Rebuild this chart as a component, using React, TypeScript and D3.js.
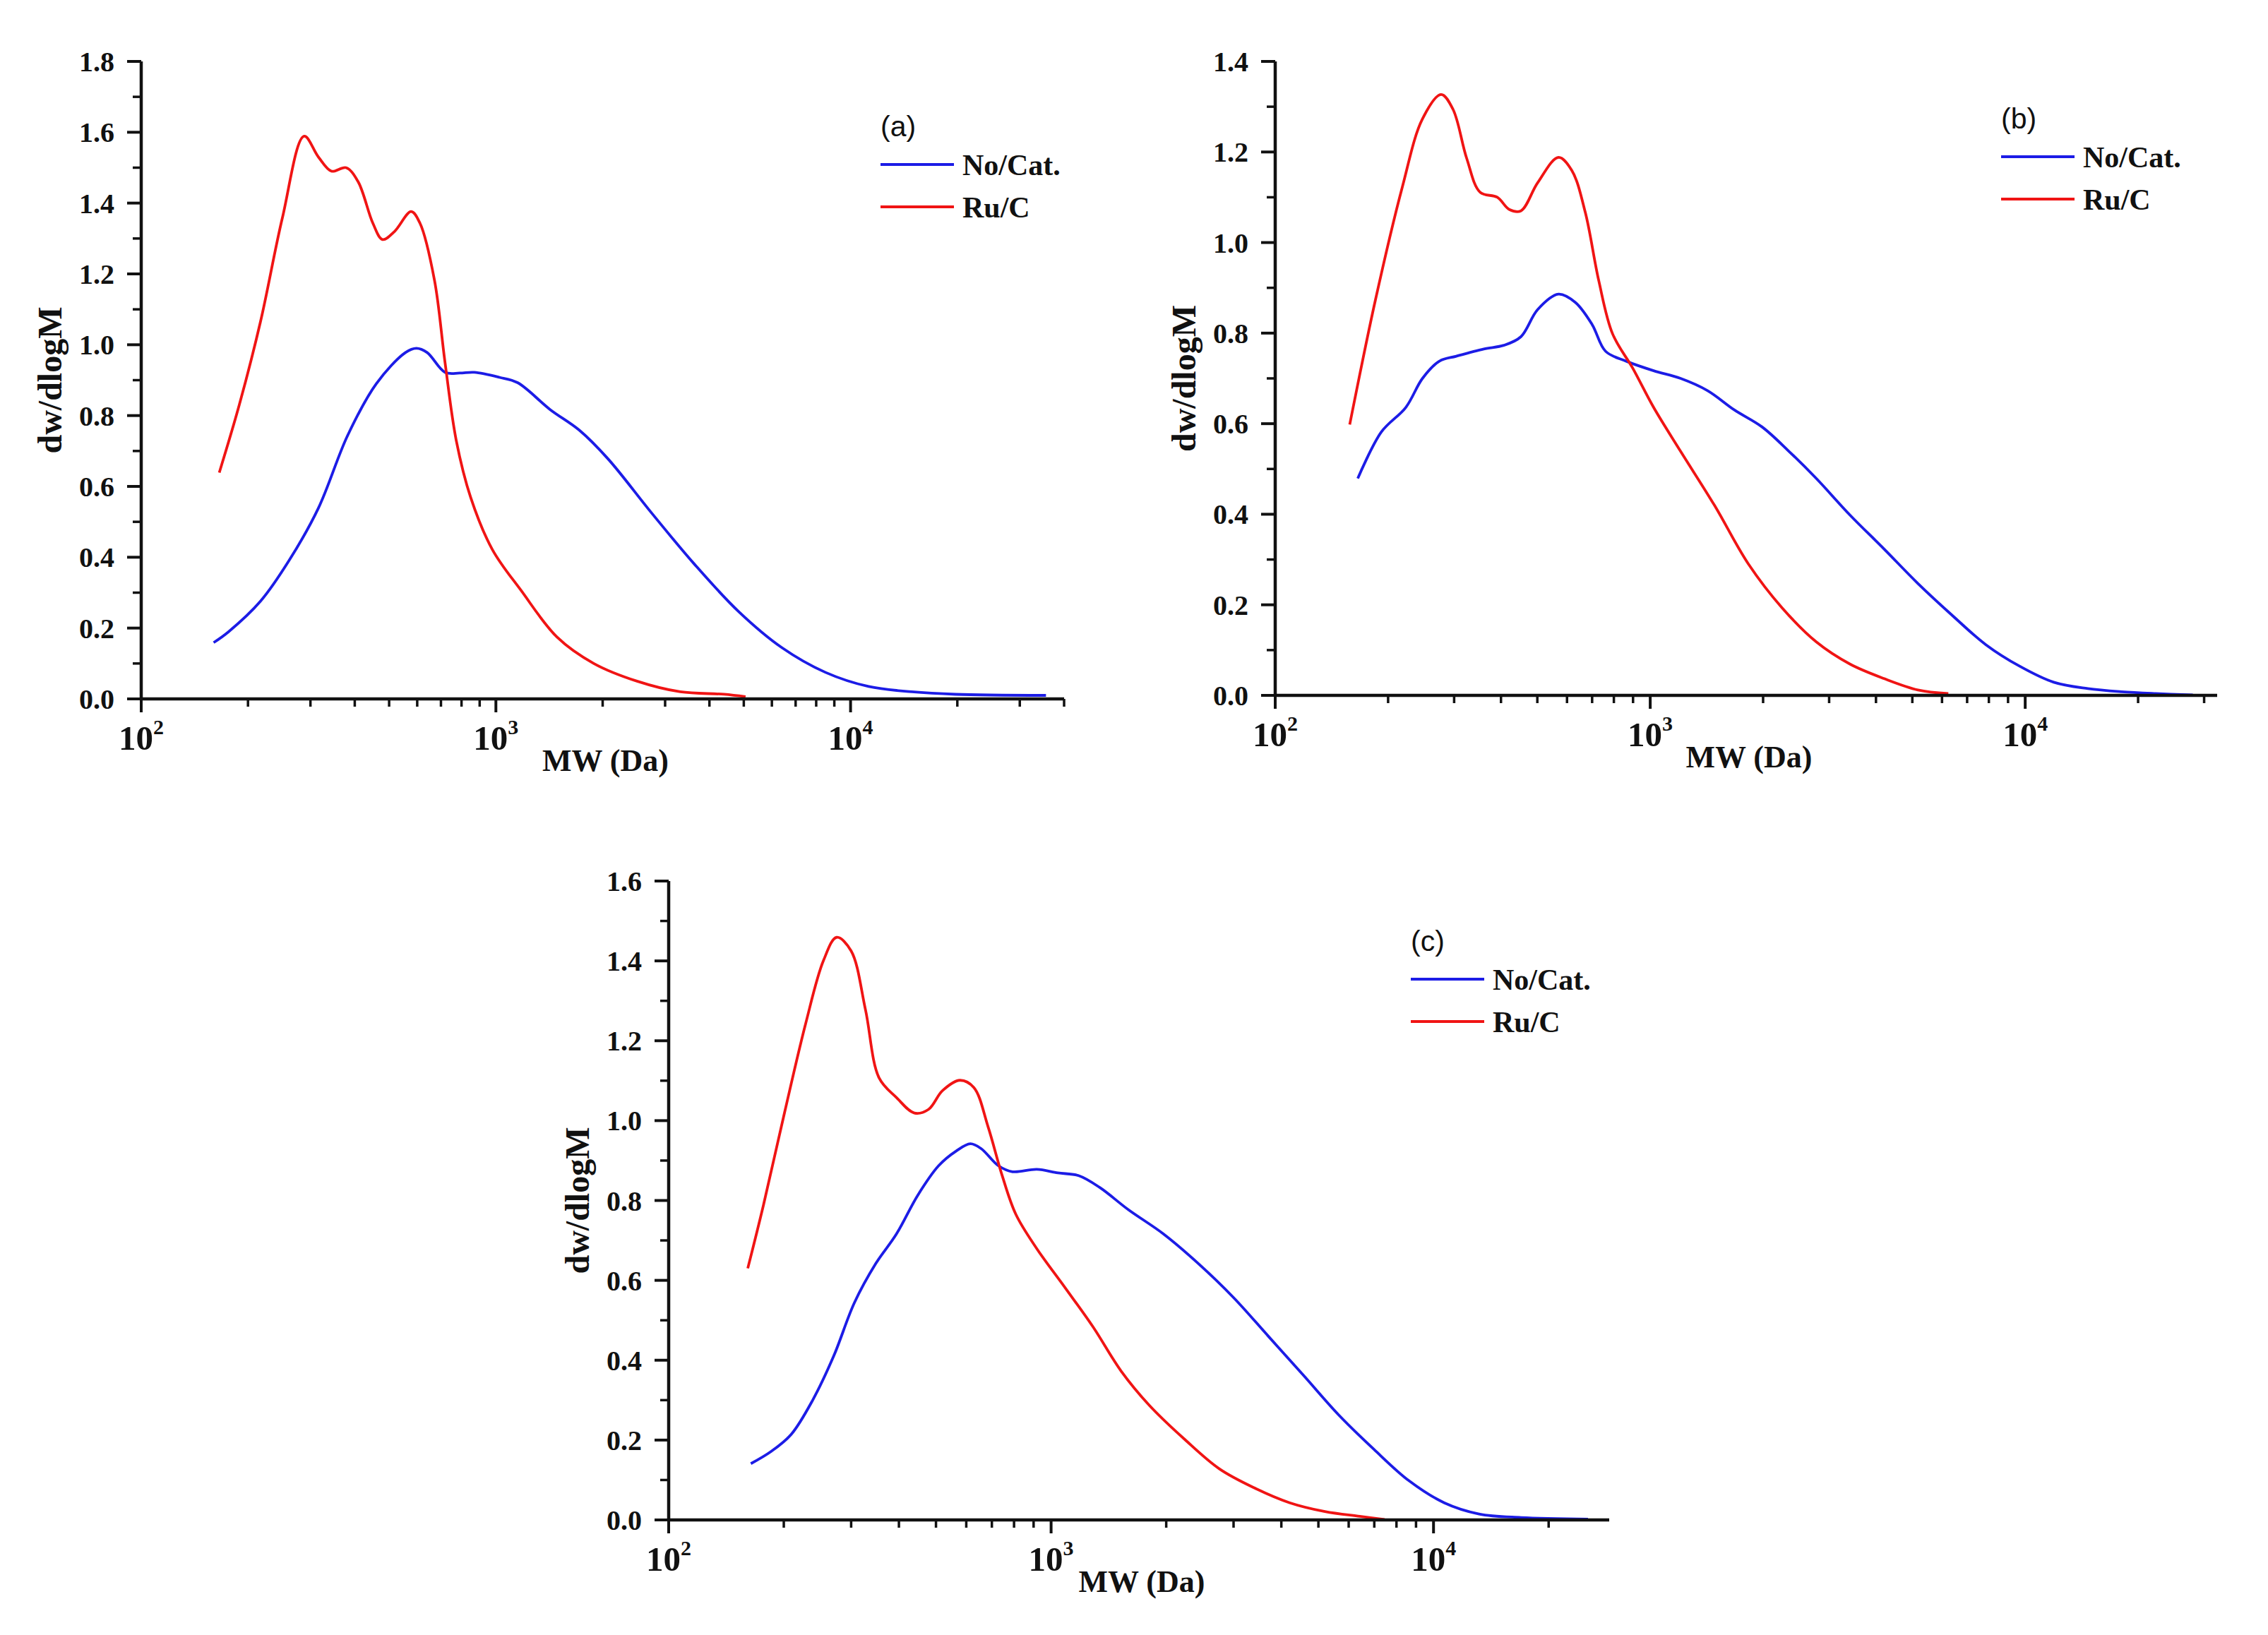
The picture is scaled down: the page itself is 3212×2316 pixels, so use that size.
import React from 'react';
import * as d3 from 'd3';

// ---- data (MW in Da, dw/dlogM) ----
const seriesNames = ['No/Cat.', 'Ru/C'];
const panelLabels = ['(a)', '(b)', '(c)'];

const mwBlueA = [160, 176, 217, 262, 316, 382, 460, 556, 597, 640, 719, 791, 869, 1023, 1151, 1422, 1718, 2070, 2748, 3639, 4831, 6397, 8492, 11246, 14894, 19770, 35563];
const valBlueA = [0.159, 0.189, 0.276, 0.393, 0.539, 0.744, 0.89, 0.978, 0.99, 0.978, 0.922, 0.92, 0.922, 0.908, 0.893, 0.817, 0.759, 0.678, 0.525, 0.379, 0.247, 0.145, 0.075, 0.035, 0.02, 0.013, 0.01];
const mwRedA = [166, 189, 217, 250, 288, 316, 344, 378, 409, 450, 479, 518, 577, 611, 671, 719, 773, 849, 977, 1178, 1489, 1888, 2500, 3311, 4395, 5058];
const valRedA = [0.639, 0.83, 1.066, 1.358, 1.589, 1.53, 1.49, 1.5, 1.46, 1.343, 1.297, 1.32, 1.376, 1.343, 1.183, 0.949, 0.73, 0.569, 0.422, 0.306, 0.174, 0.1, 0.05, 0.02, 0.013, 0.006];

const mwBlueB = [166, 192, 223, 247, 274, 304, 360, 407, 452, 501, 569, 631, 700, 760, 863, 1021, 1205, 1422, 1679, 1986, 2344, 2773, 3412, 4207, 5176, 6383, 7852, 9683, 11912, 14689, 18072, 22284, 27990];
const valBlueB = [0.479, 0.582, 0.636, 0.7, 0.738, 0.749, 0.765, 0.773, 0.792, 0.852, 0.886, 0.868, 0.819, 0.76, 0.738, 0.717, 0.7, 0.673, 0.63, 0.593, 0.539, 0.479, 0.398, 0.323, 0.247, 0.177, 0.112, 0.064, 0.029, 0.015, 0.008, 0.004, 0.001];
const mwRedB = [158, 185, 218, 247, 277, 298, 324, 352, 391, 421, 452, 501, 569, 618, 671, 729, 794, 899, 1021, 1205, 1483, 1828, 2249, 2773, 3412, 4207, 5176, 6237];
const valRedB = [0.598, 0.873, 1.121, 1.273, 1.327, 1.294, 1.186, 1.111, 1.1, 1.073, 1.07, 1.132, 1.188, 1.159, 1.067, 0.916, 0.798, 0.722, 0.636, 0.539, 0.42, 0.29, 0.193, 0.118, 0.069, 0.037, 0.012, 0.004];

const mwBlueC = [164, 185, 209, 238, 270, 306, 348, 394, 448, 508, 565, 615, 656, 728, 793, 918, 1042, 1183, 1343, 1592, 1968, 2427, 2999, 3707, 4581, 5649, 6982, 8630, 10666, 13152, 16943, 25350];
const valBlueC = [0.141, 0.171, 0.214, 0.3, 0.41, 0.544, 0.642, 0.716, 0.813, 0.887, 0.924, 0.942, 0.93, 0.887, 0.872, 0.878, 0.869, 0.862, 0.832, 0.777, 0.716, 0.642, 0.557, 0.459, 0.361, 0.263, 0.177, 0.098, 0.043, 0.015, 0.006, 0.002];
const mwRedC = [161, 177, 201, 228, 254, 275, 300, 327, 355, 394, 439, 478, 520, 577, 628, 684, 745, 809, 918, 1089, 1288, 1524, 1807, 2234, 2754, 3404, 4207, 5200, 6412, 7447];
const valRedC = [0.63, 0.789, 1.021, 1.242, 1.401, 1.459, 1.425, 1.278, 1.107, 1.058, 1.019, 1.028, 1.075, 1.101, 1.083, 0.985, 0.862, 0.765, 0.679, 0.581, 0.483, 0.373, 0.287, 0.202, 0.128, 0.08, 0.043, 0.021, 0.009, 0.001];

const yMaxes = [1.8, 1.4, 1.6];
const xMaxes = [40000, 32500, 28800];

const BLUE = '#1c1ce6';
const RED = '#f01414';
const SERIF = '"Liberation Serif", "Times New Roman", serif';
const SANS = '"Liberation Sans", Arial, sans-serif';

type Pt = { mw: number; v: number };
const zip = (m: number[], v: number[]): Pt[] => m.map((d, i) => ({ mw: d, v: v[i] }));

// panel frames (pixels)
const frames = [
  { left: 200, right: 1507, top: 87, bottom: 990, legX: 1247, legY: 233 },
  { left: 1806, right: 3140, top: 87, bottom: 985, legX: 2834, legY: 222 },
  { left: 947, right: 2279, top: 1248, bottom: 2153, legX: 1998, legY: 1387 },
];

const blues = [zip(mwBlueA, valBlueA), zip(mwBlueB, valBlueB), zip(mwBlueC, valBlueC)];
const reds = [zip(mwRedA, valRedA), zip(mwRedB, valRedB), zip(mwRedC, valRedC)];

const Panel: React.FC<{ i: number }> = ({ i }) => {
  const f = frames[i];
  const x = d3.scaleLog().domain([100, xMaxes[i]]).range([f.left, f.right]);
  const y = d3.scaleLinear().domain([0, yMaxes[i]]).range([f.bottom, f.top]);
  const line = d3.line<Pt>()
    .x(d => x(d.mw))
    .y(d => y(d.v))
    .curve(d3.curveCatmullRom.alpha(0.5));

  const yTicks = d3.range(0, Math.round(yMaxes[i] * 10) + 1).map(k => k / 10);
  const xTicks = x.ticks().filter(t => t <= xMaxes[i]);
  const isMajor = (t: number) => Math.abs(Math.log10(t) - Math.round(Math.log10(t))) < 1e-9;
  const fmt = d3.format('.1f');

  return (
    <g>
      {/* curves */}
      <path d={line(blues[i]) || ''} fill="none" stroke={BLUE} strokeWidth={3.8} />
      <path d={line(reds[i]) || ''} fill="none" stroke={RED} strokeWidth={3.8} />

      {/* y axis */}
      <line x1={f.left} x2={f.left} y1={f.top} y2={f.bottom} stroke="#111" strokeWidth={4.5} />
      {yTicks.map((t, k) => {
        const major = k % 2 === 0;
        return (
          <g key={'y' + k}>
            <line x1={f.left - (major ? 20 : 12)} x2={f.left} y1={y(t)} y2={y(t)} stroke="#111" strokeWidth={major ? 4 : 3.5} />
            {major && (
              <text x={f.left - 38} y={y(t)} dy="0.35em" textAnchor="end" fontFamily={SERIF} fontWeight="bold" fontSize={40} fill="#111">
                {fmt(t)}
              </text>
            )}
          </g>
        );
      })}

      {/* x axis */}
      <line x1={f.left} x2={f.right} y1={f.bottom} y2={f.bottom} stroke="#111" strokeWidth={4.5} />
      {xTicks.map((t, k) => {
        const major = isMajor(t);
        return (
          <g key={'x' + k}>
            <line x1={x(t)} x2={x(t)} y1={f.bottom} y2={f.bottom + (major ? 19 : 11)} stroke="#111" strokeWidth={major ? 4 : 3.5} />
            {major && (
              <text x={x(t)} y={f.bottom + 72} textAnchor="middle" fontFamily={SERIF} fontWeight="bold" fontSize={49} fill="#111">
                10<tspan dy={-22} fontSize={30}>{Math.round(Math.log10(t))}</tspan>
              </text>
            )}
          </g>
        );
      })}

      {/* axis titles */}
      <text x={(f.left + f.right) / 2 + 4} y={f.bottom + 102} textAnchor="middle" fontFamily={SERIF} fontWeight="bold" fontSize={44} fill="#111">
        MW (Da)
      </text>
      <text
        transform={`translate(${f.left - 113},${(f.top + f.bottom) / 2}) rotate(-90)`}
        textAnchor="middle" fontFamily={SERIF} fontWeight="bold" fontSize={48} fill="#111"
      >
        dw/dlogM
      </text>

      {/* legend */}
      <text x={f.legX} y={f.legY - 40} fontFamily={SANS} fontSize={41} fill="#111">{panelLabels[i]}</text>
      {[BLUE, RED].map((c, k) => (
        <g key={'l' + k}>
          <line x1={f.legX} x2={f.legX + 104} y1={f.legY + k * 60} y2={f.legY + k * 60} stroke={c} strokeWidth={4} />
          <text x={f.legX + 116} y={f.legY + k * 60 + 15} fontFamily={SERIF} fontWeight="bold" fontSize={42} fill="#111">
            {seriesNames[k]}
          </text>
        </g>
      ))}
    </g>
  );
};

const App: React.FC = () => (
  <div style={{ position: 'absolute', left: 0, top: 0 }}>
    <svg width={3212} height={2316} style={{ display: 'block', background: '#fff' }}>
      <rect width={3212} height={2316} fill="#fff" />
      {[0, 1, 2].map(i => <Panel key={i} i={i} />)}
    </svg>
  </div>
);

export default App;
